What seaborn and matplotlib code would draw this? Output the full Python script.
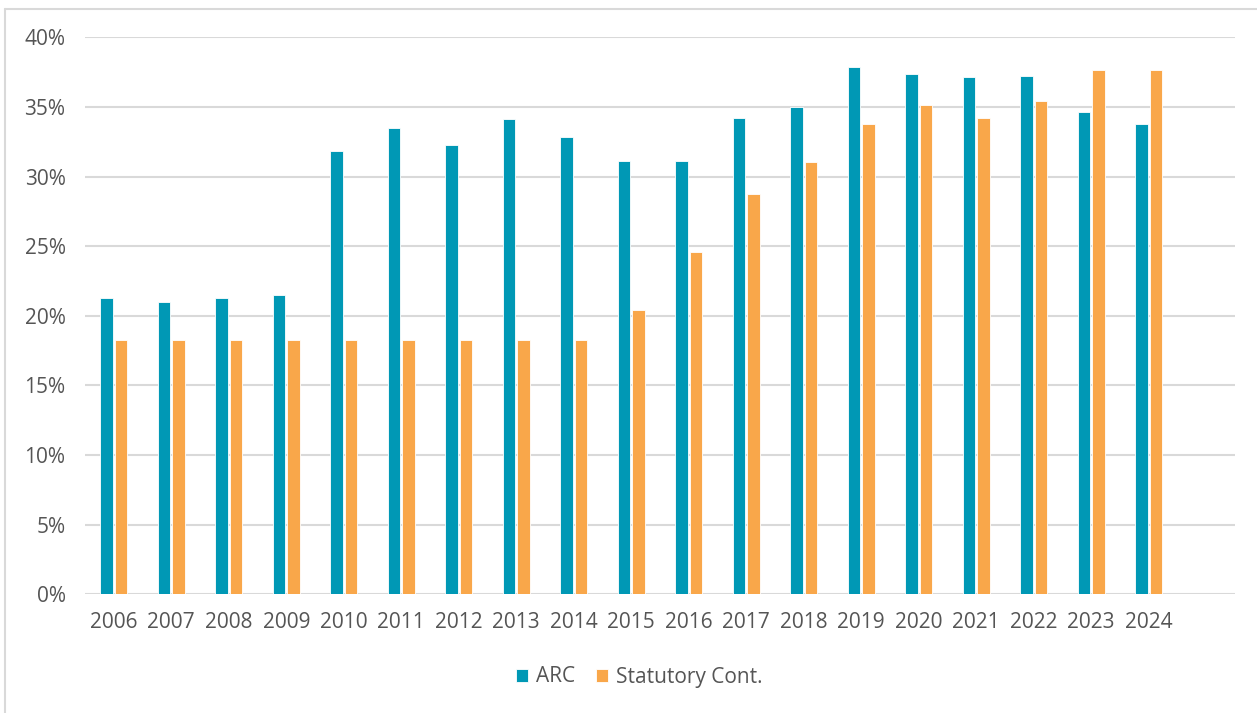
import matplotlib
matplotlib.use("Agg")
import matplotlib.pyplot as plt
from matplotlib.lines import Line2D
from matplotlib.ticker import FuncFormatter
import pandas as pd
import seaborn as sns

years = [str(y) for y in range(2006, 2025)]
arc = [21.3, 21.0, 21.3, 21.5, 31.8, 33.5, 32.3, 34.1, 32.85, 31.1,
       31.15, 34.2, 35.0, 37.9, 37.35, 37.15, 37.2, 34.65, 33.8]
statutory = [18.25, 18.25, 18.25, 18.25, 18.25, 18.25, 18.25, 18.25, 18.25, 20.45,
             24.6, 28.75, 31.05, 33.8, 35.15, 34.2, 35.45, 37.65, 37.65]
series_names = ["ARC", "Statutory Cont."]
palette = {"ARC": "#0098B5", "Statutory Cont.": "#F9A74A"}

df = pd.concat([
    pd.DataFrame({"year": years, "rate": arc, "series": series_names[0]}),
    pd.DataFrame({"year": years, "rate": statutory, "series": series_names[1]}),
])

sns.set_theme(style="white")
plt.rcParams["font.family"] = ["Open Sans", "DejaVu Sans"]
text_color = "#555555"
grid_color = "#D9D9D9"
fsize = 15

fig = plt.figure(figsize=(12.57, 7.13), dpi=100)
ax = fig.add_axes([85 / 1257, 1 - 594.3 / 713, 1150 / 1257, (594.3 - 37.3) / 713])

sns.barplot(data=df, x="year", y="rate", hue="series", order=years,
            hue_order=series_names, palette=palette, width=0.5, gap=0.12,
            edgecolor="white", linewidth=0.6, saturation=1, ax=ax, legend=True)

ax.set_ylim(0, 40)
ax.set_xlim(-0.5, len(years) + 0.5)
ax.set_yticks(range(0, 41, 5))
ax.yaxis.set_major_formatter(FuncFormatter(lambda v, _: f"{v:.0f}%"))
ax.grid(axis="y", color=grid_color, linewidth=1.5)
ax.set_axisbelow(True)
for s in ax.spines.values():
    s.set_visible(False)
ax.set_xlabel("")
ax.set_ylabel("")
ax.tick_params(axis="y", length=0, pad=14, labelsize=fsize, labelcolor=text_color)
ax.tick_params(axis="x", length=0, pad=13, labelsize=fsize, labelcolor=text_color)

handles, labels = ax.get_legend_handles_labels()
ax.legend(handles, labels, loc="center", bbox_to_anchor=(639 / 1257, 1 - 677 / 713),
          bbox_transform=fig.transFigure, ncol=2, frameon=False,
          handlelength=0.6, handleheight=0.6, handletextpad=0.35,
          columnspacing=1.0, fontsize=fsize, labelcolor=text_color)

# chart frame
fig.add_artist(Line2D([5 / 1257, 1], [1 - 9 / 713, 1 - 9 / 713],
                      transform=fig.transFigure, color=grid_color, linewidth=1.5))
fig.add_artist(Line2D([5 / 1257, 5 / 1257], [0, 1 - 9 / 713],
                      transform=fig.transFigure, color=grid_color, linewidth=1.5))

fig.savefig("out.png", dpi=100, facecolor="white")
